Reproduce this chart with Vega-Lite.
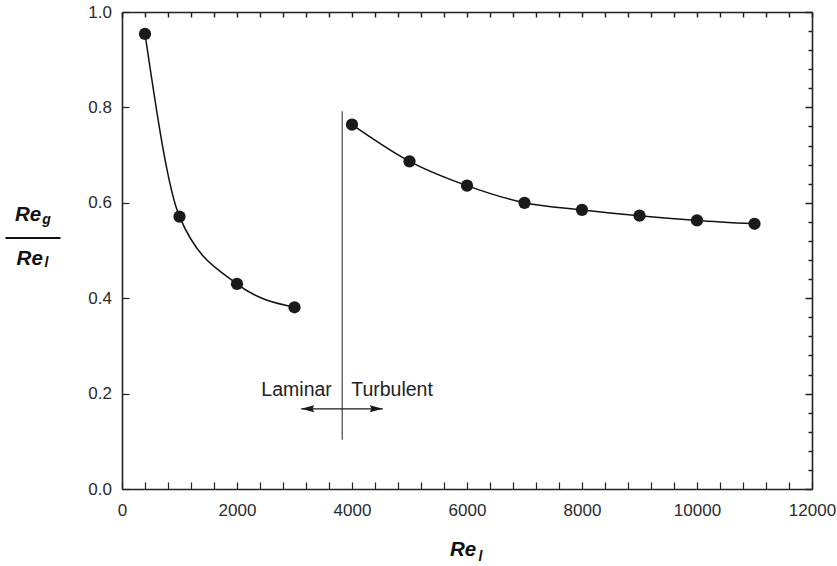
{
  "$schema": "https://vega.github.io/schema/vega-lite/v6.json",
  "width": 690,
  "height": 477,
  "autosize": {"type": "none"},
  "padding": {"left": 122, "top": 12, "right": 25, "bottom": 77},
  "background": "white",
  "config": {
    "view": {"stroke": null},
    "axis": {
      "domainColor": "#222222",
      "domainWidth": 1.6,
      "labelFont": "Liberation Sans",
      "labelFontSize": 17,
      "labelColor": "#2b2b2b",
      "labelFlush": false,
      "labelOverlap": false,
      "grid": false
    },
    "text": {"font": "Liberation Sans"}
  },
  "datasets": {
    "measurements": [
      {"Re_l": 400, "ratio": 0.954, "regime": "laminar"},
      {"Re_l": 1000, "ratio": 0.571, "regime": "laminar"},
      {"Re_l": 2000, "ratio": 0.430, "regime": "laminar"},
      {"Re_l": 3000, "ratio": 0.381, "regime": "laminar"},
      {"Re_l": 4000, "ratio": 0.764, "regime": "turbulent"},
      {"Re_l": 5000, "ratio": 0.687, "regime": "turbulent"},
      {"Re_l": 6000, "ratio": 0.636, "regime": "turbulent"},
      {"Re_l": 7000, "ratio": 0.600, "regime": "turbulent"},
      {"Re_l": 8000, "ratio": 0.585, "regime": "turbulent"},
      {"Re_l": 9000, "ratio": 0.573, "regime": "turbulent"},
      {"Re_l": 10000, "ratio": 0.563, "regime": "turbulent"},
      {"Re_l": 11000, "ratio": 0.556, "regime": "turbulent"}
    ],
    "transition": [{"Re_l": 3830, "low": 0.103, "high": 0.792}],
    "arrow": [{"from": 3116, "to": 4536, "ratio": 0.168}],
    "arrowheads": [
      {"Re_l": 3229, "ratio": 0.168, "dir": "left"},
      {"Re_l": 4423, "ratio": 0.168, "dir": "right"}
    ],
    "regimes": [
      {"label": "Laminar", "Re_l": 3649, "ratio": 0.194, "side": "left"},
      {"label": "Turbulent", "Re_l": 3986, "ratio": 0.194, "side": "right"}
    ],
    "titles": [
      {"text": "Re", "Re_l": -1405, "ratio": 0.561, "role": "main"},
      {"text": "g", "Re_l": -1388, "ratio": 0.555, "role": "sub"},
      {"text": "Re", "Re_l": -1377, "ratio": 0.470, "role": "main"},
      {"text": "l", "Re_l": -1348, "ratio": 0.465, "role": "sub"},
      {"text": "Re", "Re_l": 6160, "ratio": -0.1413, "role": "main"},
      {"text": "l", "Re_l": 6200, "ratio": -0.150, "role": "sub"}
    ],
    "fraction": [{"from": -2026, "to": -1070, "ratio": 0.526}]
  },
  "layer": [
    {
      "data": {"name": "measurements"},
      "mark": {"type": "line", "interpolate": "monotone", "color": "#111111", "strokeWidth": 1.5},
      "encoding": {
        "x": {
          "field": "Re_l", "type": "quantitative",
          "scale": {"domain": [0, 12000], "nice": false},
          "axis": {
            "orient": "bottom",
            "title": null,
            "values": [0,400,800,1200,1600,2000,2400,2800,3200,3600,4000,4400,4800,5200,5600,6000,6400,6800,7200,7600,8000,8400,8800,9200,9600,10000,10400,10800,11200,11600,12000],
            "format": "d",
            "labelExpr": "datum.value % 2000 === 0 ? datum.label : ''",
            "ticks": true,
            "tickColor": "#222222",
            "tickWidth": 1.2,
            "tickSize": -7,
            "labelPadding": 20
          }
        },
        "y": {
          "field": "ratio", "type": "quantitative",
          "scale": {"domain": [0, 1], "nice": false},
          "axis": {
            "orient": "left",
            "title": null,
            "tickCount": 5,
            "format": ".1f",
            "ticks": true,
            "tickColor": "#222222",
            "tickWidth": 1.2,
            "tickSize": -7,
            "labelPadding": 17.5
          }
        },
        "detail": {"field": "regime", "type": "nominal"}
      }
    },
    {
      "data": {"name": "measurements"},
      "mark": {"type": "point", "filled": true, "shape": "circle", "size": 150, "color": "#1a1a1a", "opacity": 1},
      "encoding": {
        "x": {
          "field": "Re_l", "type": "quantitative",
          "axis": {
            "orient": "top",
            "title": null,
            "values": [0,400,800,1200,1600,2000,2400,2800,3200,3600,4000,4400,4800,5200,5600,6000,6400,6800,7200,7600,8000,8400,8800,9200,9600,10000,10400,10800,11200,11600,12000],
            "labels": false,
            "tickColor": "#222222",
            "tickWidth": 1.5,
            "tickSize": -5
          }
        },
        "y": {
          "field": "ratio", "type": "quantitative",
          "axis": {
            "orient": "right",
            "title": null,
            "values": [0,0.04,0.08,0.12,0.16,0.2,0.24,0.28,0.32,0.36,0.4,0.44,0.48,0.52,0.56,0.6,0.64,0.68,0.72,0.76,0.8,0.84,0.88,0.92,0.96,1.0],
            "labels": false,
            "tickColor": "#222222",
            "tickWidth": 1.5,
            "tickSize": {"condition": {"test": "abs(datum.value*5 - round(datum.value*5)) < 0.001", "value": -7}, "value": -4}
          }
        }
      }
    },
    {
      "data": {"name": "transition"},
      "mark": {"type": "rule", "color": "#555555", "strokeWidth": 1.3},
      "encoding": {
        "x": {"field": "Re_l", "type": "quantitative", "axis": null},
        "y": {"field": "low", "type": "quantitative", "axis": null},
        "y2": {"field": "high"}
      }
    },
    {
      "data": {"name": "arrow"},
      "mark": {"type": "rule", "color": "#1a1a1a", "strokeWidth": 1.3},
      "encoding": {
        "x": {"field": "from", "type": "quantitative", "axis": null},
        "x2": {"field": "to"},
        "y": {"field": "ratio", "type": "quantitative", "axis": null}
      }
    },
    {
      "data": {"name": "arrowheads"},
      "mark": {"type": "point", "filled": true, "size": 169, "color": "#1a1a1a", "opacity": 1},
      "encoding": {
        "x": {"field": "Re_l", "type": "quantitative", "axis": null},
        "y": {"field": "ratio", "type": "quantitative", "axis": null},
        "shape": {
          "field": "dir", "type": "nominal",
          "scale": {"domain": ["left", "right"], "range": ["M-1,0L1,-0.54L0.75,0L1,0.54Z", "M1,0L-1,-0.54L-0.75,0L-1,0.54Z"]},
          "legend": null
        }
      }
    },
    {
      "data": {"name": "regimes"},
      "transform": [{"filter": "datum.side === 'left'"}],
      "mark": {"type": "text", "fontSize": 19.5, "color": "#222222", "baseline": "alphabetic", "align": "right"},
      "encoding": {
        "x": {"field": "Re_l", "type": "quantitative", "axis": null},
        "y": {"field": "ratio", "type": "quantitative", "axis": null},
        "text": {"field": "label"}
      }
    },
    {
      "data": {"name": "regimes"},
      "transform": [{"filter": "datum.side === 'right'"}],
      "mark": {"type": "text", "fontSize": 19.5, "color": "#222222", "baseline": "alphabetic", "align": "left"},
      "encoding": {
        "x": {"field": "Re_l", "type": "quantitative", "axis": null},
        "y": {"field": "ratio", "type": "quantitative", "axis": null},
        "text": {"field": "label"}
      }
    },
    {
      "data": {"name": "titles"},
      "transform": [{"filter": "datum.role === 'main'"}],
      "mark": {"type": "text", "fontSize": 20.5, "fontWeight": "bold", "fontStyle": "italic", "align": "right", "baseline": "alphabetic", "color": "#111111"},
      "encoding": {
        "x": {"field": "Re_l", "type": "quantitative", "axis": null},
        "y": {"field": "ratio", "type": "quantitative", "axis": null},
        "text": {"field": "text"}
      }
    },
    {
      "data": {"name": "titles"},
      "transform": [{"filter": "datum.role === 'sub'"}],
      "mark": {"type": "text", "fontSize": 14, "fontWeight": "bold", "fontStyle": "italic", "align": "left", "baseline": "alphabetic", "color": "#111111"},
      "encoding": {
        "x": {"field": "Re_l", "type": "quantitative", "axis": null},
        "y": {"field": "ratio", "type": "quantitative", "axis": null},
        "text": {"field": "text"}
      }
    },
    {
      "data": {"name": "fraction"},
      "mark": {"type": "rule", "color": "#111111", "strokeWidth": 2},
      "encoding": {
        "x": {"field": "from", "type": "quantitative", "axis": null},
        "x2": {"field": "to"},
        "y": {"field": "ratio", "type": "quantitative", "axis": null}
      }
    }
  ],
  "resolve": {"axis": {"x": "independent", "y": "independent"}}
}
